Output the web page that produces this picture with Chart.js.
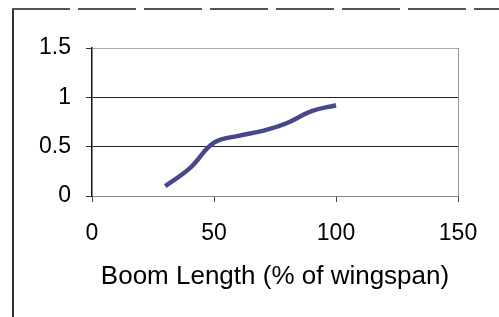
<!DOCTYPE html>
<html>
<head>
<meta charset="utf-8">
<script src="https://cdn.jsdelivr.net/npm/chart.js@4"></script>
<style>
  body { margin: 0; background: #fff; }
  #wrap { position: relative; width: 499px; height: 317px; overflow: hidden; }
  #frameLeft { position: absolute; left: 12px; top: 8px; width: 2px; height: 320px; background: #333; }
  #frameTop { position: absolute; left: 12px; top: 8px; width: 500px; height: 2px;
              background: repeating-linear-gradient(90deg, #555 0 58px, transparent 58px 66px); }
  canvas { position: absolute; left: 0; top: 0; }
</style>
</head>
<body>
<div id="wrap">
  <div id="frameLeft"></div>
  <div id="frameTop"></div>
  <canvas id="myChart" width="499" height="317"></canvas>
</div>
<script>
const boomLength = [30, 40, 50, 60, 70, 80, 90, 100];
const ratio = [0.1, 0.28, 0.54, 0.61, 0.66, 0.74, 0.86, 0.92];
const xTicks = [0, 50, 100, 150];
const yTicks = [0, 0.5, 1, 1.5];
const xTitle = 'Boom Length (% of wingspan)';

const points = boomLength.map((x, i) => ({ x: x, y: ratio[i] }));
const font = 'Liberation Sans, Arial';

const ctx = document.getElementById('myChart').getContext('2d');
new Chart(ctx, {
  type: 'line',
  data: {
    datasets: [{
      data: points,
      borderColor: '#47478c',
      borderWidth: 4.5,
      pointRadius: 0,
      tension: 0.4,
      fill: false
    }]
  },
  options: {
    responsive: false,
    animation: false,
    layout: { padding: { top: 48, right: 41, left: 0, bottom: 0 } },
    plugins: { legend: { display: false }, tooltip: { enabled: false } },
    scales: {
      x: {
        type: 'linear',
        min: xTicks[0],
        max: xTicks[xTicks.length - 1],
        afterBuildTicks: s => { s.ticks = xTicks.map(v => ({ value: v })); },
        afterFit: s => { s.height = 121; },
        grid: {
          color: c => (c.tick && c.tick.value === 150) ? '#999' : 'rgba(0,0,0,0)',
          tickColor: '#444',
          tickLength: 6
        },
        border: { color: '#888', width: 1 },
        ticks: {
          color: '#000',
          padding: 18,
          callback: v => String(v),
          font: { family: font, size: 23 }
        },
        title: {
          display: true,
          text: xTitle,
          color: '#000',
          padding: { top: 0, bottom: 25 },
          font: { family: font, size: 26 }
        }
      },
      y: {
        min: yTicks[0],
        max: yTicks[yTicks.length - 1],
        afterBuildTicks: s => { s.ticks = yTicks.map(v => ({ value: v })); },
        afterFit: s => { s.width = 92; },
        grid: {
          color: c => {
            const v = c.tick ? c.tick.value : null;
            if (v === 0) return '#888';
            if (v === 1.5) return '#aaa';
            return '#222';
          },
          tickColor: '#333',
          tickLength: 6
        },
        border: { color: '#111', width: 1.5 },
        ticks: {
          color: '#000',
          padding: 15,
          callback: v => String(v),
          font: { family: font, size: 23 }
        }
      }
    }
  }
});
</script>
</body>
</html>
